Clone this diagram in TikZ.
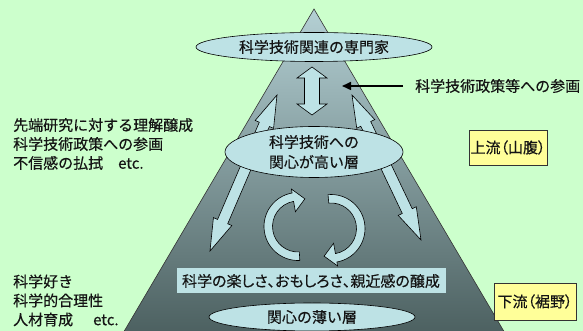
\documentclass[tikz,border=0pt]{standalone}
\usepackage{fontspec}
\setmainfont{Noto Sans CJK JP}[FakeBold=0.4]
\newfontfamily\jpp{Noto Sans CJK JP}[RawFeature={+palt},FakeBold=0.4]
\usetikzlibrary{calc,arrows.meta,shapes.geometric}
\definecolor{bg}{RGB}{204,255,204}
\definecolor{cyanfill}{RGB}{189,226,229}
\definecolor{pyrtop}{RGB}{180,208,212}
\definecolor{pyrbot}{RGB}{74,94,94}
\definecolor{yellowbox}{RGB}{255,255,153}
\definecolor{txt}{RGB}{20,20,20}
\newcommand{\dblarr}[5]{%
  \path ($(#1)!#3!(#2)$) coordinate (#1h) ($(#2)!#3!(#1)$) coordinate (#2h);
  \filldraw[blk] (#1) -- ($(#1h)!#4!90:(#2)$) -- ($(#1h)!#5!90:(#2)$)
    -- ($(#2h)!#5!-90:(#1)$) -- ($(#2h)!#4!-90:(#1)$) -- (#2)
    -- ($(#2h)!#4!90:(#1)$) -- ($(#2h)!#5!90:(#1)$)
    -- ($(#1h)!#5!-90:(#2)$) -- ($(#1h)!#4!-90:(#2)$) -- cycle;}
\tikzset{
  lab/.style={font=\fontsize{15}{19}\selectfont, text=txt, inner sep=0pt},
  ell/.style={ellipse, draw=black, line width=0.6pt, fill=cyanfill, inner sep=0pt, text=txt, font=\fontsize{15}{20}\selectfont, align=center},
  blk/.style={draw=black, line width=0.6pt, fill=cyanfill, line join=miter},
  ybox/.style={draw=black!80, line width=0.8pt, fill=yellowbox, inner sep=0pt, text=txt, font=\jpp\fontsize{15}{19}\selectfont},
}
\begin{document}
\begin{tikzpicture}[x=1pt,y=1pt]
\useasboundingbox (0,0) rectangle (583,331);
\fill[bg] (0,0) rectangle (583,331);
\shade[top color=pyrtop, bottom color=pyrbot, draw=black!80, line width=0.6pt]
  (314,322) -- (119,-9) -- (509,-9) -- cycle;
% diagonal double arrows
\coordinate (la) at (277,236); \coordinate (lb) at (210,80);
\coordinate (ra) at (352,236); \coordinate (rb) at (421,91);
\dblarr{la}{lb}{32pt}{10pt}{5.5pt}
\dblarr{ra}{rb}{32pt}{10pt}{5.5pt}
% vertical double arrow
\coordinate (va) at (312,264); \coordinate (vb) at (312,216);
\dblarr{va}{vb}{11pt}{15pt}{7.5pt}
% ellipses
\node[ell, minimum width=236pt, minimum height=29pt] (top) at (314,284) {科学技術関連の専門家};
\node[ell, minimum width=178pt, minimum height=51pt] (mid) at (314,179) {科学技術への\\関心が高い層};
\node[ell, minimum width=206pt, minimum height=28pt] (low) at (312,14) {関心の薄い層};
% policy arrow
\node[lab, anchor=west, inner xsep=12pt] (pol) at (403,245) {科学技術政策等への参画};
\coordinate (ptip) at (342,245);
\draw[line width=1.6pt, -{Triangle[length=9pt,width=8pt]}] (pol.west) -- (ptip);
% circular arrows
\coordinate (cl) at (298,104.5);
\coordinate (cr) at (331,102.5);
\filldraw[blk] ($(cl)+(273:34pt)$) arc[start angle=273, end angle=100, radius=34pt]
  -- ($(cl)+(100:38pt)$) -- ($(cl)+(76:28.5pt)$) -- ($(cl)+(100:15pt)$)
  -- ($(cl)+(100:25.5pt)$) arc[start angle=100, end angle=273, radius=25.5pt] -- cycle;
\filldraw[blk] ($(cr)+(95:34pt)$) arc[start angle=95, end angle=-80, radius=34pt]
  -- ($(cr)+(-80:38pt)$) -- ($(cr)+(-104:28.5pt)$) -- ($(cr)+(-80:15pt)$)
  -- ($(cr)+(-80:25.5pt)$) arc[start angle=-80, end angle=95, radius=25.5pt] -- cycle;
% joy box
\node[fill=cyanfill, minimum width=269pt, minimum height=25pt, inner sep=0pt, text=txt,
  font=\jpp\fontsize{15}{19}\selectfont] (joy) at (311,50) {科学の楽しさ、おもしろさ、親近感の醸成};
% left texts
\node[lab, anchor=west, align=left] (upl) at (13,187) {先端研究に対する理解醸成\\科学技術政策への参画\\不信感の払拭\hspace{15pt}etc.};
\node[lab, anchor=west, align=left] (lowl) at (13,30.5) {科学好き\\科学的合理性\\人材育成\hspace{20pt}etc.};
% yellow boxes
\node[ybox, minimum width=78pt, minimum height=35pt] (up) at (508,183.5) {上流（山腹）};
\node[ybox, minimum width=82pt, minimum height=37pt] (down) at (535,29.5) {下流（裾野）};
\end{tikzpicture}
\end{document}
